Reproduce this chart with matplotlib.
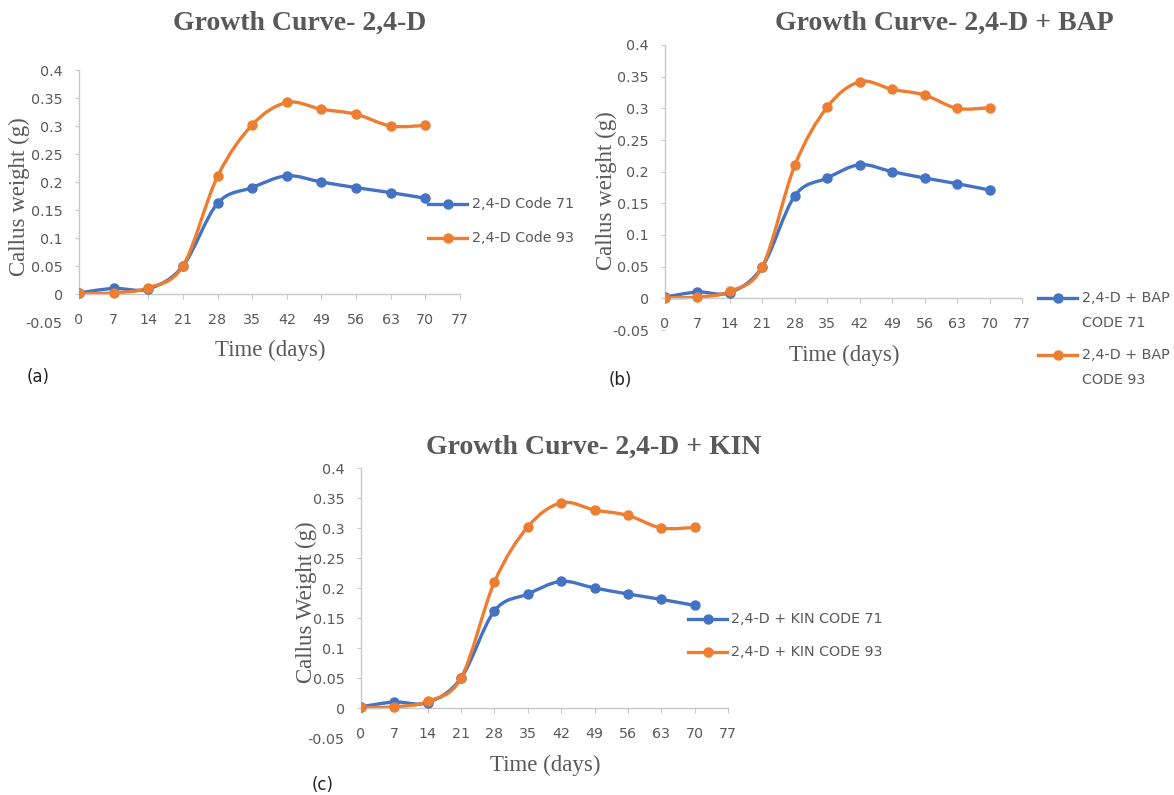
import numpy as np
import matplotlib
matplotlib.use("Agg")
import matplotlib.pyplot as plt
from matplotlib.path import Path
from matplotlib.patches import PathPatch
from matplotlib.lines import Line2D

# ── Data (callus weight in g) ─────────────────────────────────────────
days = [0, 7, 14, 21, 28, 35, 42, 49, 56, 63, 70]
code71 = [0.002, 0.01, 0.009, 0.05, 0.162, 0.19, 0.211, 0.20, 0.19, 0.181, 0.171]
code93 = [0.001, 0.002, 0.011, 0.05, 0.21, 0.302, 0.342, 0.33, 0.321, 0.30, 0.301]

x_ticks = list(range(0, 78, 7))
y_ticks = [-0.05, 0, 0.05, 0.1, 0.15, 0.2, 0.25, 0.3, 0.35, 0.4]
y_tick_labels = ["-0.05", "0", "0.05", "0.1", "0.15", "0.2", "0.25", "0.3", "0.35", "0.4"]

titles = ["Growth Curve- 2,4-D", "Growth Curve- 2,4-D + BAP", "Growth Curve- 2,4-D + KIN"]
ylabels = ["Callus weight (g)", "Callus weight (g)", "Callus Weight (g)"]
tags = ["(a)", "(b)", "(c)"]
legend_labels = [
    ["2,4-D Code 71", "2,4-D Code 93"],
    [["2,4-D + BAP", "CODE 71"], ["2,4-D + BAP", "CODE 93"]],
    ["2,4-D + KIN CODE 71", "2,4-D + KIN CODE 93"],
]

BLUE, ORANGE = "#4472C4", "#ED7D31"
GRID = "#C8C8C8"
TXT = "#595959"

W, H = 1174, 795
fig = plt.figure(figsize=(W / 100, H / 100), dpi=100)


def fx(px):
    return px / W


def fy(py):
    return 1 - py / H


def smooth_path(x, y):
    """Excel-style smoothed line: Catmull-Rom segments as cubic Beziers."""
    pts = np.column_stack([x, y]).astype(float)
    n = len(pts)
    verts, codes = [pts[0]], [Path.MOVETO]
    for i in range(n - 1):
        p0, p1 = pts[max(i - 1, 0)], pts[i]
        p2, p3 = pts[i + 1], pts[min(i + 2, n - 1)]
        verts += [p1 + (p2 - p0) / 6, p2 - (p3 - p1) / 6, p2]
        codes += [Path.CURVE4] * 3
    return Path(verts, codes)


# axes boxes in pixels: (x of day 0, x of day 77, y of 0.4, y of -0.05)
boxes = [(79, 460, 70, 322), (665, 1022, 45, 330), (361, 728, 468, 738)]

for k, (x0, x1, yt, yb) in enumerate(boxes):
    ax = fig.add_axes([fx(x0), fy(yb), (x1 - x0) / W, (yb - yt) / H])
    for vals, col in [(code71, BLUE), (code93, ORANGE)]:
        ax.add_patch(PathPatch(smooth_path(days, vals), facecolor="none",
                               edgecolor=col, lw=2.4, joinstyle="round", capstyle="round"))
        ax.plot(days, vals, "o", color=col, ms=6.5, zorder=3)
    ax.set_xlim(0, 77)
    ax.set_ylim(-0.05, 0.4)
    ax.set_xticks(x_ticks)
    ax.set_yticks(y_ticks)
    ax.set_yticklabels(y_tick_labels)
    for s in ["top", "right"]:
        ax.spines[s].set_visible(False)
    ax.spines["bottom"].set_position(("data", 0))
    ax.spines["left"].set_bounds(0, 0.4)
    for s in ["bottom", "left"]:
        ax.spines[s].set_color(GRID)
        ax.spines[s].set_linewidth(1.0)
    ax.tick_params(axis="x", direction="out", length=3.6, color=GRID, pad=10,
                   labelsize=10.3, labelcolor=TXT)
    ax.tick_params(axis="y", direction="out", length=3.2, color=GRID, pad=8.5,
                   labelsize=10.3, labelcolor=TXT)
    ax.patch.set_alpha(0)

# titles, axis labels, panel tags
title_pos = [(300, 23), (944, 23), (594, 447)]
ylab_pos = [(19, 197), (606, 191), (306, 602)]
xlab_pos = [(270, 350), (844, 355), (545, 765)]
tag_pos = [(38, 377), (620, 380), (323, 785)]
for k in range(3):
    fig.text(fx(title_pos[k][0]), fy(title_pos[k][1]), titles[k], family="Liberation Serif",
             weight="bold", size=20, color=TXT, ha="center", va="center")
    fig.text(fx(ylab_pos[k][0]), fy(ylab_pos[k][1]), ylabels[k], family="Liberation Serif",
             size=16.5, color=TXT, ha="center", va="center", rotation=90)
    fig.text(fx(xlab_pos[k][0]), fy(xlab_pos[k][1]), "Time (days)", family="Liberation Serif",
             size=16.5, color=TXT, ha="center", va="center")
    fig.text(fx(tag_pos[k][0]), fy(tag_pos[k][1]), tags[k], size=12, color="#222222",
             ha="center", va="center")


def legend_key(x_line0, x_line1, x_text, y, color, lines, dy=25):
    fig.add_artist(Line2D([fx(x_line0), fx(x_line1)], [fy(y), fy(y)], transform=fig.transFigure,
                          color=color, lw=2.4, marker=None))
    fig.add_artist(Line2D([fx((x_line0 + x_line1) / 2)], [fy(y)], transform=fig.transFigure,
                          color=color, marker="o", ms=6.5, ls="none"))
    if isinstance(lines, str):
        lines = [lines]
    for j, t in enumerate(lines):
        fig.text(fx(x_text), fy(y + j * dy), t, size=10.3, color=TXT, ha="left", va="center")


legend_key(428, 467, 472, 204, BLUE, legend_labels[0][0])
legend_key(428, 467, 472, 238, ORANGE, legend_labels[0][1])
legend_key(1038, 1077, 1082, 298, BLUE, legend_labels[1][0])
legend_key(1038, 1077, 1082, 355, ORANGE, legend_labels[1][1])
legend_key(688, 727, 731, 619, BLUE, legend_labels[2][0])
legend_key(688, 727, 731, 652, ORANGE, legend_labels[2][1])

fig.savefig("out.png", dpi=100)
